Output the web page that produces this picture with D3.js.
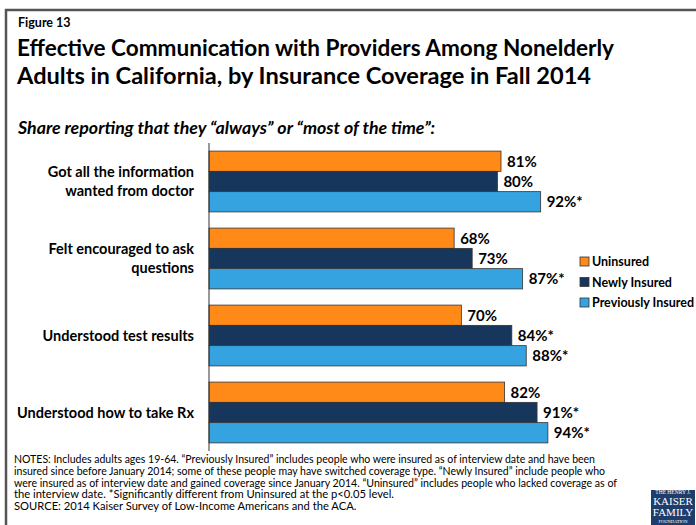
<!DOCTYPE html>
<html>
<head>
<meta charset="utf-8">
<script src="https://cdn.jsdelivr.net/npm/d3@7"></script>
<style>
  html, body { margin: 0; padding: 0; background: #fff; }
  svg { display: block; }
  text { font-family: Lato, "Open Sans", sans-serif; fill: #000; }
</style>
</head>
<body>
<svg id="chart" width="696" height="525"></svg>
<script>
// Survey measures (one group of bars each)
const categories = [
  ["Got all the information", "wanted from doctor"],
  ["Felt encouraged to ask", "questions"],
  ["Understood test results"],
  ["Understood how to take Rx"]
];
const seriesNames = ["Uninsured", "Newly Insured", "Previously Insured"];
const uninsured = [81, 68, 70, 82];
const newlyInsured = [80, 73, 84, 91];
const previouslyInsured = [92, 87, 88, 94];
// Significance markers (* = significantly different from Uninsured)
const newlySig = [false, false, true, true];
const previouslySig = [true, true, true, true];
const colors = ["#FF8A17", "#17365C", "#35A3E0"];

const notes = [
  "NOTES: Includes adults ages 19-64. \u201CPreviously Insured\u201D includes people who were insured as of interview date and have been",
  "insured since before January 2014; some of these people may have switched coverage type. \u201CNewly Insured\u201D include people who",
  "were insured as of interview date and gained coverage since January 2014. \u201CUninsured\u201D includes people who lacked coverage as of",
  "the interview date. *Significantly different from Uninsured at the p<0.05 level.",
  "SOURCE: 2014 Kaiser Survey of Low-Income Americans and the ACA."
];

const svg = d3.select("#chart");

// Slide frame
svg.append("line").attr("x1", 5).attr("x2", 696).attr("y1", 10).attr("y2", 10)
  .attr("stroke", "#555").attr("stroke-width", 2.5);
svg.append("line").attr("x1", 6).attr("x2", 6).attr("y1", 9).attr("y2", 525)
  .attr("stroke", "#555").attr("stroke-width", 2.5);

// Titles
svg.append("text").attr("x", 18).attr("y", 27).attr("font-size", 12.5)
  .attr("font-weight", 700).text("Figure 13");
svg.append("text").attr("x", 17).attr("y", 56).attr("font-size", 22.5)
  .attr("font-weight", 700).attr("textLength", 597).attr("lengthAdjust", "spacingAndGlyphs")
  .text("Effective Communication with Providers Among Nonelderly");
svg.append("text").attr("x", 17).attr("y", 84).attr("font-size", 22.5)
  .attr("font-weight", 700).attr("textLength", 574).attr("lengthAdjust", "spacingAndGlyphs")
  .text("Adults in California, by Insurance Coverage in Fall 2014");
svg.append("text").attr("x", 18).attr("y", 134).attr("font-size", 16.5)
  .attr("font-weight", 700).attr("font-style", "italic")
  .attr("textLength", 417).attr("lengthAdjust", "spacingAndGlyphs")
  .text("Share reporting that they \u201Calways\u201D or \u201Cmost of the time\u201D:");

// Scales
const x = d3.scaleLinear().domain([0, 100]).range([209, 569.5]);
const y = d3.scaleBand().domain(d3.range(categories.length)).range([143, 451]).paddingInner(0.21).paddingOuter(0.105);
const ySub = d3.scaleBand().domain(d3.range(seriesNames.length)).range([0, y.bandwidth()]);

const rows = categories.map((c, i) => ({
  i,
  values: [uninsured[i], newlyInsured[i], previouslyInsured[i]],
  sig: [false, newlySig[i], previouslySig[i]]
}));

const groups = svg.append("g").selectAll("g").data(rows).join("g")
  .attr("transform", d => `translate(0,${y(d.i)})`);

groups.selectAll("rect").data(d => d.values.map((v, s) => ({ v, s }))).join("rect")
  .attr("x", x(0))
  .attr("y", d => ySub(d.s))
  .attr("width", d => x(d.v) - x(0))
  .attr("height", ySub.bandwidth())
  .attr("fill", d => colors[d.s])
  .attr("stroke", "#333").attr("stroke-width", 0.8);

groups.selectAll("text.val").data(d => d.values.map((v, s) => ({ v, s, sig: d.sig[s] }))).join("text")
  .attr("class", "val")
  .attr("x", d => x(d.v) + 6)
  .attr("y", d => ySub(d.s) + ySub.bandwidth() / 2)
  .attr("dy", "0.36em")
  .attr("font-size", 15).attr("font-weight", 700)
  .text(d => d.v + "%" + (d.sig ? "*" : ""));

// Category labels
svg.append("g").selectAll("text").data(categories).join("text")
  .attr("text-anchor", "end")
  .attr("x", 194)
  .attr("y", (c, i) => y(i) + y.bandwidth() / 2 - (c.length - 1) * 9.5)
  .attr("font-size", 14.5).attr("font-weight", 700)
  .selectAll("tspan").data(c => c).join("tspan")
  .attr("x", 194).attr("dy", (t, j) => j === 0 ? "0.36em" : 19)
  .text(t => t);

// Vertical category axis
const yAxis = svg.append("g").attr("transform", `translate(${x(0)},0)`)
  .call(d3.axisLeft(y).tickSize(0).tickFormat(""));
yAxis.select(".domain").attr("stroke", "#333").attr("stroke-width", 1)
  .attr("d", "M0,143V451");

// Legend
const legend = svg.append("g").selectAll("g").data(seriesNames).join("g")
  .attr("transform", (d, i) => `translate(580,${257 + i * 20.5})`);
legend.append("rect").attr("width", 9).attr("height", 9)
  .attr("fill", (d, i) => colors[i]).attr("stroke", "#333").attr("stroke-width", 0.8);
legend.append("text").attr("x", 12).attr("y", 4.5).attr("dy", "0.36em")
  .attr("font-size", 12.5).attr("font-weight", 700).text(d => d);

// Notes and source
svg.append("g").selectAll("text").data(notes).join("text")
  .attr("x", 14).attr("y", (d, i) => 463 + i * 11.75)
  .attr("font-size", 11.2)
  .attr("textLength", (d, i) => [581, 591, 603, 0, 0][i] || null)
  .attr("lengthAdjust", "spacingAndGlyphs")
  .text(d => d);

// Foundation logo
const logo = svg.append("g").attr("transform", "translate(651,490)");
logo.append("rect").attr("width", 44).attr("height", 36).attr("fill", "#1F3D6B");
const logoText = [["THE HENRY J.", 4, 5.5], ["KAISER", 15, 11], ["FAMILY", 26, 11], ["FOUNDATION", 33, 4.5]];
logo.selectAll("text").data(logoText).join("text")
  .attr("x", 22).attr("y", d => d[1]).attr("text-anchor", "middle")
  .attr("font-size", d => d[2])
  .style("font-family", "'Liberation Serif', 'DejaVu Serif', serif")
  .style("fill", "#fff")
  .text(d => d[0]);
</script>
</body>
</html>
